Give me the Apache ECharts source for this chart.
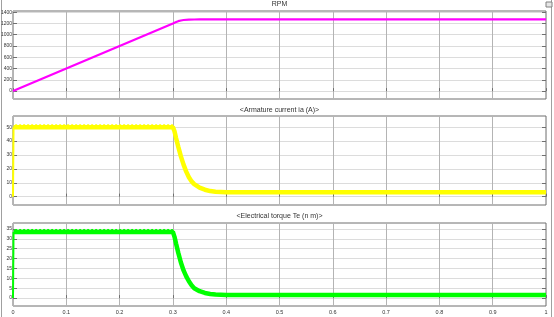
<!DOCTYPE html>
<html>
<head>
<meta charset="utf-8">
<script src="https://cdn.jsdelivr.net/npm/echarts@6/dist/echarts.min.js"></script>
<style>
  html, body { margin: 0; padding: 0; background: #fff; }
  #chart { width: 554px; height: 317px; }
</style>
</head>
<body>
<div id="chart"></div>
<script>
// Values
var titles = ['RPM', '<Armature current ia (A)>', '<Electrical torque Te (n m)>'];
var xTicks = [0, 0.1, 0.2, 0.3, 0.4, 0.5, 0.6, 0.7, 0.8, 0.9, 1];

var rpmTime = [0, 0.3, 0.305, 0.31, 0.315, 0.32, 0.33, 0.34, 0.35, 1];
var rpmValue = [0, 1200, 1222, 1240, 1252, 1260, 1266, 1269, 1270, 1270];
var rpmTicks = [0, 200, 400, 600, 800, 1000, 1200, 1400];

// start-up jump at t = 0, then the rippling band
var curRiseTime = [0, 0.001];
var curRiseValue = [0, 50];
var curTime = [0.001, 0.3, 0.303, 0.306, 0.31, 0.315, 0.32, 0.325, 0.33, 0.335, 0.34, 0.35, 0.36, 0.37, 0.38, 0.4, 1];
var curValue = [50, 50, 47, 42, 36, 29, 23, 18, 14, 11, 9, 6.5, 5, 4, 3.5, 3.2, 3.2];
var curPeakTime = [0.004, 0.3];
var curPeakValue = [51.5, 51.5];
var curTicks = [0, 10, 20, 30, 40, 50];

var teRiseTime = [0, 0.001];
var teRiseValue = [0, 33.5];
var teTime = [0.001, 0.3, 0.303, 0.306, 0.31, 0.315, 0.32, 0.325, 0.33, 0.335, 0.34, 0.35, 0.36, 0.37, 0.38, 0.4, 1];
var teValue = [33.5, 33.5, 31, 27.5, 23, 18, 14, 11, 8.5, 6.5, 5, 3.5, 2.6, 2.1, 1.8, 1.6, 1.6];
var tePeakTime = [0.004, 0.3];
var tePeakValue = [34.6, 34.6];
var teTicks = [0, 5, 10, 15, 20, 25, 30, 35];

function pairs(xs, ys) {
    return xs.map(function (x, i) { return [x, ys[i]]; });
}

var font = 'Liberation Sans, Arial, sans-serif';

var grids = [
    { left: 13, right: 8, top: 11, height: 88 },
    { left: 13, right: 8, top: 116, height: 89 },
    { left: 13, right: 8, top: 223, height: 83 }
];
grids.forEach(function (g) {
    g.show = true;
    g.borderColor = '#6e6e6e';
    g.borderWidth = 1;
    g.backgroundColor = '#fff';
    g.containLabel = false;
    g.outerBoundsMode = 'none';
});

var yRanges = [[-140, 1420, rpmTicks], [-6, 58, curTicks], [-4, 38, teTicks]];

var xAxes = [], yAxes = [];
for (var i = 0; i < 3; i++) {
    xAxes.push({
        type: 'value', gridIndex: i, min: 0, max: 1, interval: 0.1,
        axisLine: { show: false },
        axisTick: { show: true, inside: true, length: 3, lineStyle: { color: '#707070' } },
        axisLabel: {
            show: i === 2, fontSize: 5.5, color: '#333', fontFamily: font, margin: 3,
            formatter: function (v) { return String(Math.round(v * 10) / 10); }
        },
        splitLine: { show: true, lineStyle: { color: '#b4b4b4', width: 1 } }
    });
    yAxes.push({
        type: 'value', gridIndex: i, min: yRanges[i][0], max: yRanges[i][1],
        axisLine: { show: false },
        axisTick: { show: true, inside: true, length: 4, customValues: yRanges[i][2], lineStyle: { color: '#707070' } },
        axisLabel: {
            fontSize: 5, color: '#333', fontFamily: font, margin: 1, customValues: yRanges[i][2],
            formatter: function (v) { return String(v); }
        },
        splitLine: { show: true, lineStyle: { color: '#dcdcdc', width: 1 } }
    });
    yAxes.push({
        type: 'value', gridIndex: i, position: 'right', min: yRanges[i][0], max: yRanges[i][1],
        axisLine: { show: false },
        axisTick: { show: true, inside: true, length: 4, customValues: yRanges[i][2], lineStyle: { color: '#707070' } },
        axisLabel: { show: false },
        splitLine: { show: false }
    });
}

function line(gi, data, color, width, dashed) {
    return {
        type: 'line', xAxisIndex: gi, yAxisIndex: gi * 2, data: data,
        showSymbol: false, silent: true, animation: false,
        lineStyle: { color: color, width: width, type: dashed ? [2, 2] : 'solid' }
    };
}

var chart = echarts.init(document.getElementById('chart'), null, { renderer: 'canvas' });
chart.setOption({
    backgroundColor: '#fff',
    animation: false,
    title: titles.map(function (t, i) {
        return {
            text: t, left: 279.5, textAlign: 'center', top: [1, 107, 213][i], padding: 0,
            textStyle: { fontSize: 7, fontWeight: 'normal', color: '#333', fontFamily: font }
        };
    }),
    grid: grids,
    xAxis: xAxes,
    yAxis: yAxes,
    series: [
        line(0, pairs(rpmTime, rpmValue), '#ff00ff', 2.2),
        line(1, pairs(curRiseTime, curRiseValue), '#ffff00', 2),
        line(1, pairs(curTime, curValue), '#ffff00', 4.5),
        line(1, pairs(curPeakTime, curPeakValue), '#ffff00', 1.5, true),
        line(2, pairs(teRiseTime, teRiseValue), '#00ff00', 2),
        line(2, pairs(teTime, teValue), '#00ff00', 4.5),
        line(2, pairs(tePeakTime, tePeakValue), '#00ff00', 1.5, true)
    ],
    graphic: [
        { type: 'rect', shape: { x: 1, y: 0, width: 1, height: 317 }, style: { fill: '#a0a0a0' } },
        { type: 'rect', shape: { x: 551, y: 0, width: 1, height: 317 }, style: { fill: '#a0a0a0' } },
        { type: 'rect', shape: { x: 546, y: 2, width: 6, height: 5 }, style: { fill: '#e6e6e6', stroke: '#808080', lineWidth: 1 } }
    ]
});

window.addEventListener('resize', function () {
    if (chart) chart.resize();
});
</script>
</body>
</html>
